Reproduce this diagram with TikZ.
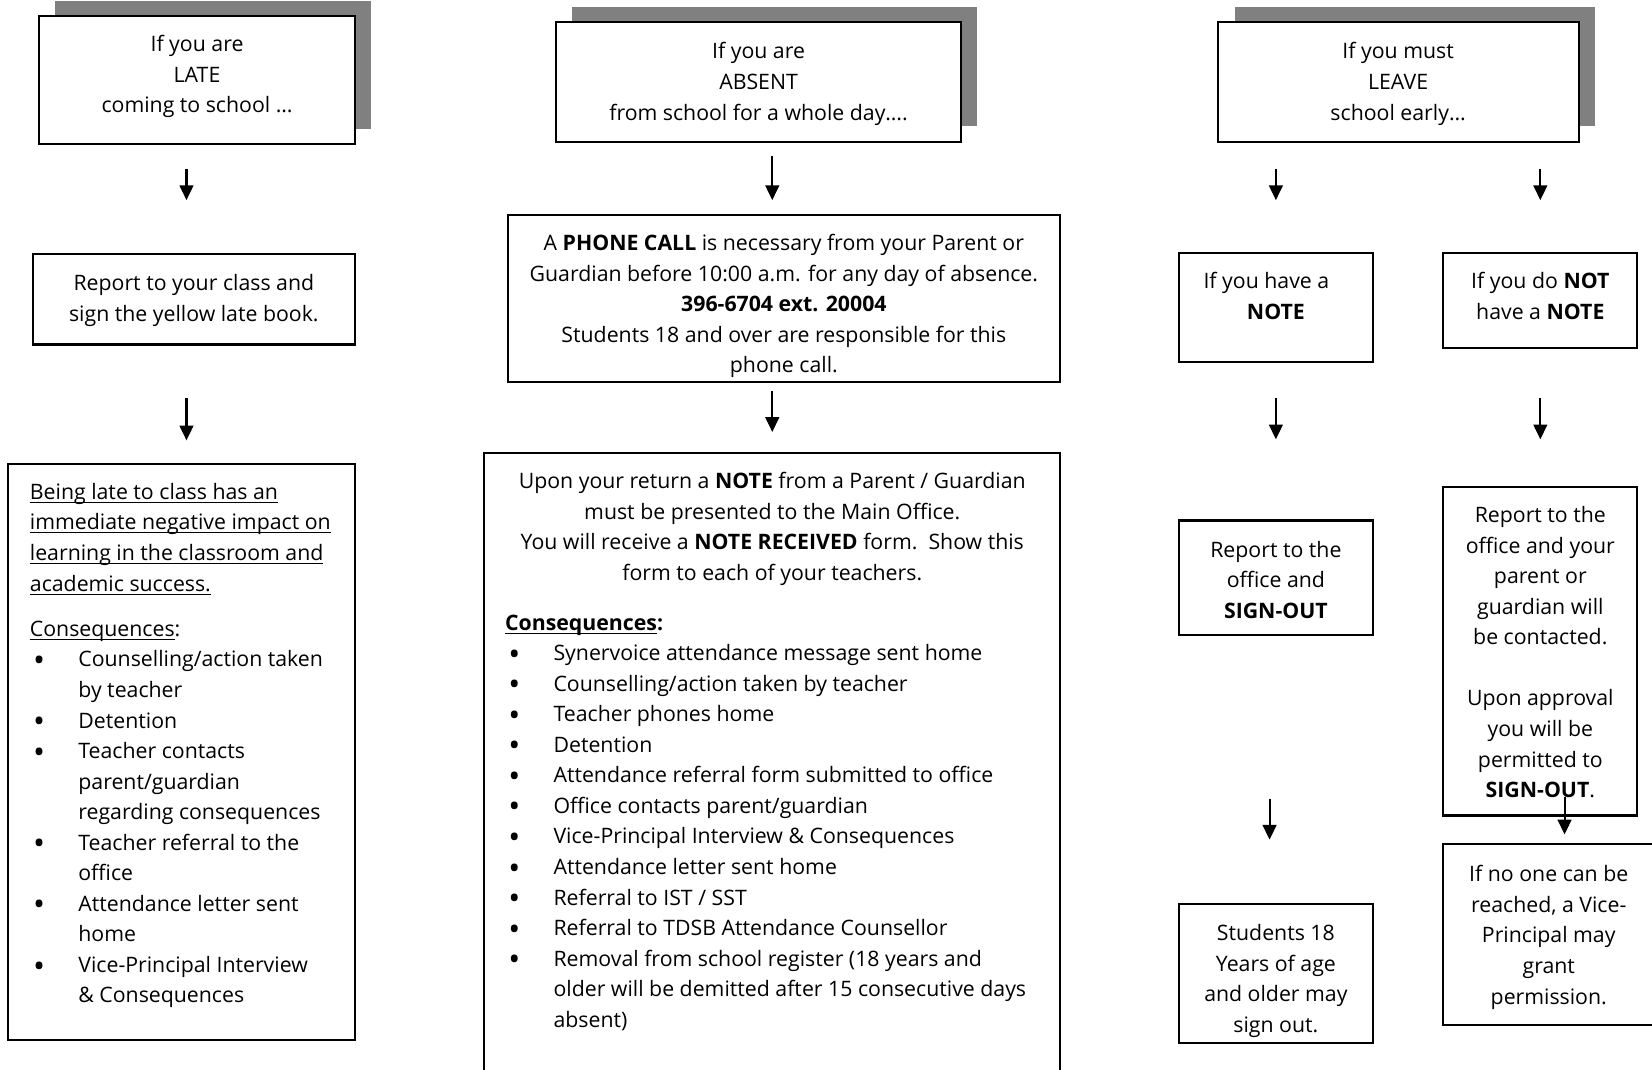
\documentclass[tikz,border=0pt]{standalone}
\usepackage{fontspec}
\setmainfont{Open Sans}
\usetikzlibrary{arrows.meta,fit}
\definecolor{shadowgray}{HTML}{808080}
\newcommand{\bl}{\makebox[23pt][l]{\hspace{1.5pt}\raisebox{-2.2pt}{\scalebox{1.5}{\textbullet}}}}
\newcommand{\ind}{\hspace*{23pt}}
\newcommand{\uln}[1]{\underline{\smash{#1}}}
\begin{document}
\begin{tikzpicture}[x=0.5pt,y=-0.5pt,
  box/.style={draw, line width=1pt, fill=white, inner sep=0pt},
  shade/.style={fill=shadowgray, draw=none},
  arr/.style={-{Triangle[width=6.5pt,length=7pt]}, line width=1pt},
  ctext/.style={inner sep=0pt, anchor=base, font=\fontsize{10.1}{14.5}\selectfont},
  ltext/.style={inner sep=0pt, anchor=base west, font=\fontsize{10.1}{14.5}\selectfont}]
\useasboundingbox (0,0) rectangle (1568,1015);
% ---------- column 1: LATE ----------
\fill[shade] (52,1) rectangle (352,122);
\node[box, fit={(37,15) (337,137)}] (lateHead) {};
\node[ctext] (lateHeadT) at (187,49) {\parbox[t]{150pt}{\centering If you are\\LATE\\coming to school …}};
\node[box, fit={(31,241) (337,327)}] (lateRep) {};
\node[ctext] (lateRepT) at (184,276) {\parbox[t]{150pt}{\centering Report to your class and\\sign the yellow late book.}};
\node[box, fit={(8,440) (337,987)}] (lateBig) {};
\node[ltext] (lateBigT) at (28,474) {\parbox[t]{160pt}{\raggedright
\uln{Being late to class has an}\\
\uln{immediate negative impact on}\\
\uln{learning in the classroom and}\\
\uln{academic success.}\\[7pt]
\uln{Consequences}:\\
\bl Counselling/action taken\\
\ind by teacher\\
\bl Detention\\
\bl Teacher contacts\\
\ind parent/guardian\\
\ind regarding consequences\\
\bl Teacher referral to the\\
\ind office\\
\bl Attendance letter sent\\
\ind home\\
\bl Vice-Principal Interview\\
\ind \& Consequences}};
% ---------- column 2: ABSENT ----------
\fill[shade] (543,7) rectangle (927,120);
\node[box, fit={(528,21) (912,135)}] (absHead) {};
\node[ctext] (absHeadT) at (720,56) {\parbox[t]{190pt}{\centering If you are\\ABSENT\\from school for a whole day….}};
\node[box, fit={(482,204) (1006,363)}] (phone) {};
\node[ctext] (phoneT) at (744,238) {\parbox[t]{260pt}{\centering
A \textbf{PHONE CALL} is necessary from your Parent or\\
Guardian before 10:00 a.m. for any day of absence.\\
\textbf{396-6704 ext. 20004}\\
Students 18 and over are responsible for this\\
phone call.}};
\node[box, fit={(459,430) (1006,1040)}] (absBig) {};
\node[ctext] (absBigT) at (733,464) {\parbox[t]{270pt}{\centering
Upon your return a \textbf{NOTE} from a Parent / Guardian\\
must be presented to the Main Office.\\
You will receive a \textbf{NOTE RECEIVED} form.\ \ Show this\\
form to each of your teachers.}};
\node[ltext] (absCons) at (479,598) {\parbox[t]{265pt}{\raggedright
\textbf{\uln{Consequences}:}\\
\bl Synervoice attendance message sent home\\
\bl Counselling/action taken by teacher\\
\bl Teacher phones home\\
\bl Detention\\
\bl Attendance referral form submitted to office\\
\bl Office contacts parent/guardian\\
\bl Vice-Principal Interview \& Consequences\\
\bl Attendance letter sent home\\
\bl Referral to IST / SST\\
\bl Referral to TDSB Attendance Counsellor\\
\bl Removal from school register (18 years and\\
\ind older will be demitted after 15 consecutive days\\
\ind absent)}};
% ---------- column 3: LEAVE ----------
\fill[shade] (1172,7) rectangle (1514,120);
\node[box, fit={(1156,21) (1499,135)}] (leaveHead) {};
\node[ctext] (leaveHeadT) at (1327,56) {\parbox[t]{170pt}{\centering If you must\\LEAVE\\school early…}};
\node[box, fit={(1119,240) (1303,344)}] (note) {};
\node[ctext] (noteT1) at (1202,274) {If you have a};
\node[ctext] (noteT2) at (1211,303) {\textbf{NOTE}};
\node[box, fit={(1370,240) (1554,330)}] (nonote) {};
\node[ctext] (nonoteT) at (1462,274) {\parbox[t]{90pt}{\centering If you do \textbf{NOT}\\have a \textbf{NOTE}}};
\node[box, fit={(1119,494) (1303,603)}] (signout) {};
\node[ctext] (signoutT) at (1211,529) {\parbox[t]{90pt}{\centering Report to the\\office and\\\textbf{SIGN-OUT}}};
\node[box, fit={(1370,462) (1554,774)}] (contact) {};
\node[ctext] (contactT) at (1462,496) {\parbox[t]{90pt}{\centering Report to the\\office and your\\parent or\\guardian will\\be contacted.\\[14.5pt]Upon approval\\you will be\\permitted to\\\textbf{SIGN-OUT}.}};
\node[box, fit={(1119,858) (1303,990)}] (adult) {};
\node[ctext] (adultT) at (1211,893) {\parbox[t]{90pt}{\centering Students 18\\Years of age\\and older may\\sign out.}};
\node[box, fit={(1370,801) (1580,973)}] (vp) {};
\node[ctext] (vpT) at (1470,837) {\parbox[t]{95pt}{\centering If no one can be\\reached, a Vice-\\Principal may\\grant\\permission.}};
% ---------- arrows ----------
\coordinate (l1a) at (177,160); \coordinate (l1b) at (177,190);
\coordinate (l2a) at (177,378); \coordinate (l2b) at (177,418);
\coordinate (a1a) at (733,148); \coordinate (a1b) at (733,190);
\coordinate (a2a) at (733,371); \coordinate (a2b) at (733,410);
\coordinate (r1a) at (1211,160); \coordinate (r1b) at (1211,190);
\coordinate (s1a) at (1462,160); \coordinate (s1b) at (1462,190);
\coordinate (r2a) at (1211,378); \coordinate (r2b) at (1211,417);
\coordinate (s2a) at (1462,378); \coordinate (s2b) at (1462,417);
\coordinate (r3a) at (1205,758); \coordinate (r3b) at (1205,797);
\coordinate (s3a) at (1485,756); \coordinate (s3b) at (1485,792);
\foreach \p in {l1,l2,a1,a2,r1,s1,r2,s2,r3,s3}
  \draw[arr] (\p a) -- (\p b);
\end{tikzpicture}
\end{document}
